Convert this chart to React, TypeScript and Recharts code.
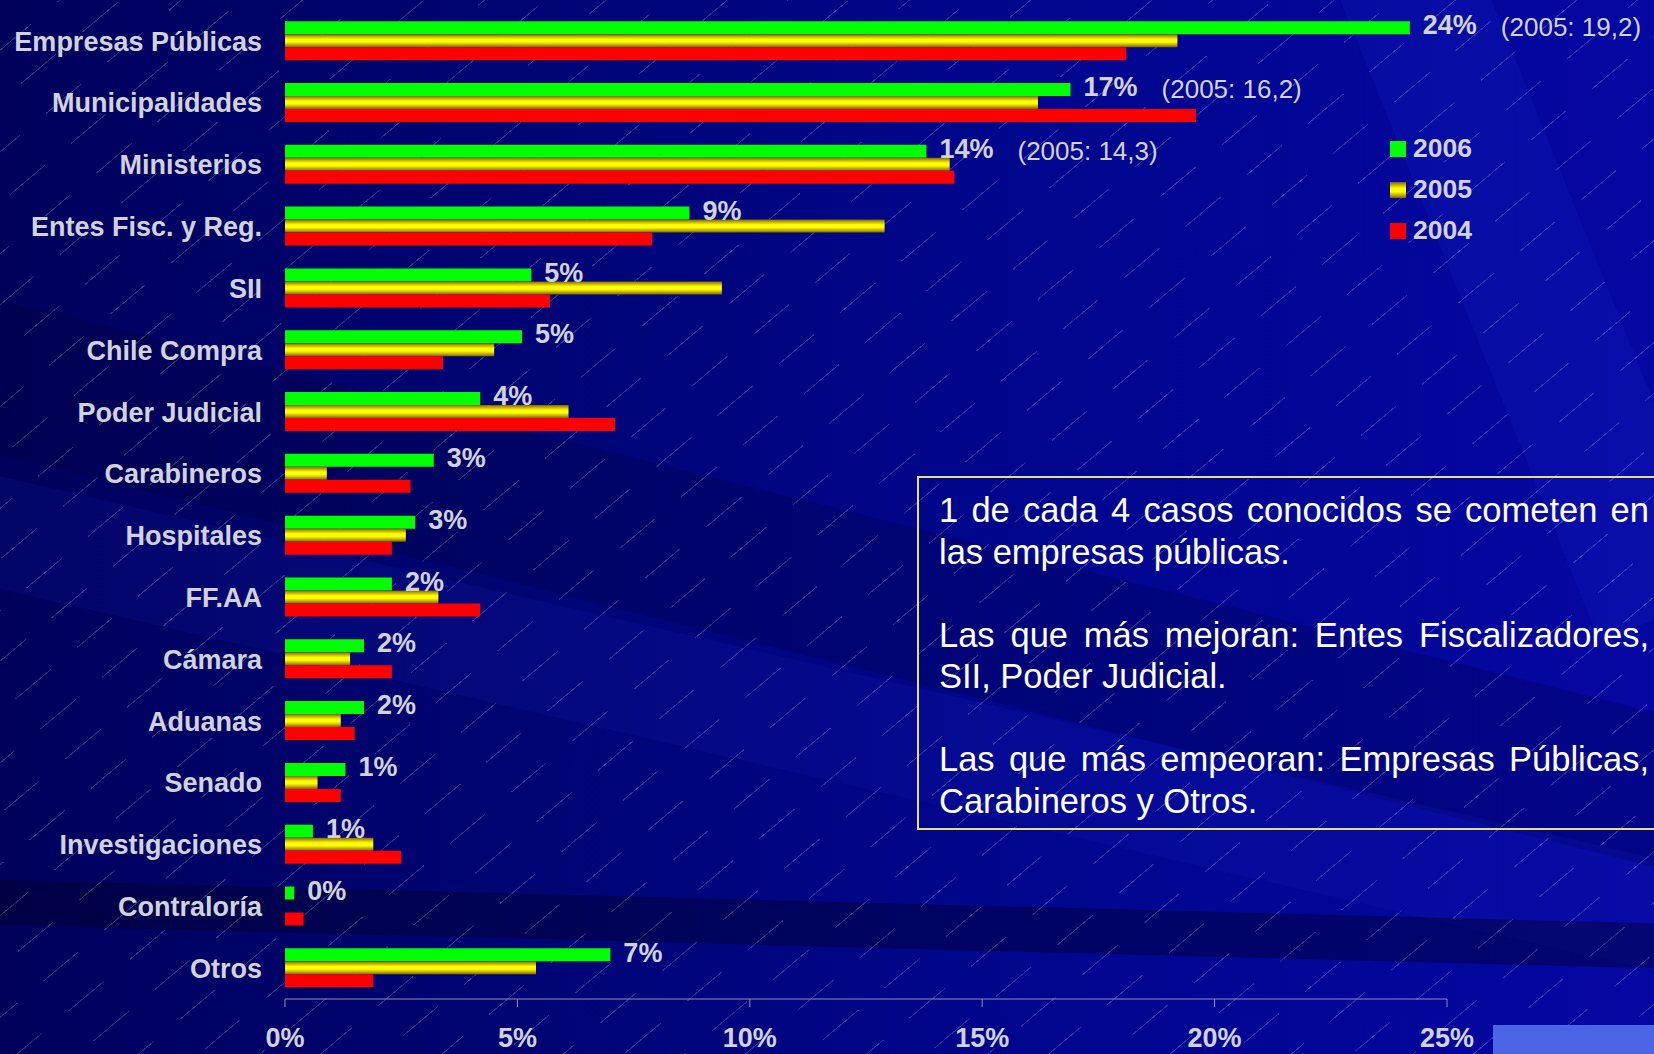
import React from "react";
import { BarChart, Bar, XAxis, YAxis, LabelList, Legend } from "recharts";

const categories = [
  "Empresas Públicas",
  "Municipalidades",
  "Ministerios",
  "Entes Fisc. y Reg.",
  "SII",
  "Chile Compra",
  "Poder Judicial",
  "Carabineros",
  "Hospitales",
  "FF.AA",
  "Cámara",
  "Aduanas",
  "Senado",
  "Investigaciones",
  "Contraloría",
  "Otros",
];

const values2006 = [24.2, 16.9, 13.8, 8.7, 5.3, 5.1, 4.2, 3.2, 2.8, 2.3, 1.7, 1.7, 1.3, 0.6, 0.2, 7.0];
const values2005 = [19.2, 16.2, 14.3, 12.9, 9.4, 4.5, 6.1, 0.9, 2.6, 3.3, 1.4, 1.2, 0.7, 1.9, 0, 5.4];
const values2004 = [18.1, 19.6, 14.4, 7.9, 5.7, 3.4, 7.1, 2.7, 2.3, 4.2, 2.3, 1.5, 1.2, 2.5, 0.4, 1.9];

const labels2006 = ["24%", "17%", "14%", "9%", "5%", "5%", "4%", "3%", "3%", "2%", "2%", "2%", "1%", "1%", "0%", "7%"];
const notes2005 = ["(2005: 19,2)", "(2005: 16,2)", "(2005: 14,3)", "", "", "", "", "", "", "", "", "", "", "", "", ""];

const xTicks = [0, 5, 10, 15, 20, 25];

const data = categories.map((name, i) => ({
  name,
  v2006: values2006[i],
  v2005: values2005[i],
  v2004: values2004[i],
  lbl: labels2006[i],
}));

// boundaries between categories (Excel-style tick marks)
const frameTicks = [...categories.map((_, i) => i), categories.length];

const font = "'Liberation Sans', Arial, sans-serif";
const textColor = "#d2d2dc";
const axisColor = "#8e8eb8";

const series = [
  { key: "v2006", name: "2006", fill: "#00ff00", swatch: "#00ff00" },
  {
    key: "v2005",
    name: "2005",
    fill: "url(#gold)",
    swatch: "linear-gradient(180deg,#7a6a00 0%,#c8b400 20%,#ffff00 40%,#ffff00 60%,#c8b400 80%,#7a6a00 100%)",
  },
  { key: "v2004", name: "2004", fill: "#ff0000", swatch: "#ff0000" },
];

const CategoryTick = (props: any) => {
  const { x, y, payload } = props;
  return (
    <text
      x={x}
      y={y}
      dy="0.36em"
      textAnchor="end"
      fill={textColor}
      fontSize={27}
      fontWeight="bold"
      fontFamily={font}
    >
      {payload.value}
    </text>
  );
};

const renderValueLabel = (props: any) => {
  const { x, y, width, height, value, index } = props;
  const note = notes2005[index];
  return (
    <text
      x={Number(x) + Number(width) + 13}
      y={Number(y) + Number(height) / 2 - 3}
      dy="0.36em"
      fill={textColor}
      fontSize={27}
      fontFamily={font}
    >
      <tspan fontWeight="bold">{value}</tspan>
      {note ? (
        <tspan dx={24} dy={2} fontWeight="normal" fontSize={26}>
          {note}
        </tspan>
      ) : null}
    </text>
  );
};

const renderLegend = () => (
  <div style={{ fontFamily: font }}>
    {series.map((s) => (
      <div key={s.key} style={{ display: "flex", alignItems: "center", height: 41 }}>
        <div style={{ width: 16, height: 16, background: s.swatch, marginRight: 7 }} />
        <span style={{ color: textColor, fontSize: 26.5, fontWeight: "bold" }}>{s.name}</span>
      </div>
    ))}
  </div>
);

export default function App() {
  return (
    <div
      style={{
        position: "absolute",
        left: 0,
        top: 0,
        width: 1654,
        height: 1054,
        overflow: "hidden",
        fontFamily: font,
        background: "linear-gradient(90deg, #00005c 0%, #000472 30%, #00068c 60%, #0507a2 100%)",
      }}
    >
      {/* soft diagonal bands */}
      <div
        style={{
          position: "absolute",
          left: -200,
          top: 250,
          width: 2200,
          height: 150,
          background: "rgba(0,0,50,0.22)",
          transform: "rotate(14deg)",
          transformOrigin: "0 0",
        }}
      />
      <div
        style={{
          position: "absolute",
          left: -200,
          top: 430,
          width: 2200,
          height: 110,
          background: "rgba(30,40,200,0.12)",
          transform: "rotate(13deg)",
          transformOrigin: "0 0",
        }}
      />
      <div
        style={{
          position: "absolute",
          left: 0,
          top: 880,
          width: 1700,
          height: 45,
          background: "rgba(0,0,40,0.4)",
          transform: "rotate(1.5deg)",
          transformOrigin: "0 0",
        }}
      />
      <div
        style={{
          position: "absolute",
          left: 1300,
          top: -100,
          width: 140,
          height: 800,
          background: "rgba(40,60,230,0.12)",
          transform: "rotate(-22deg)",
          transformOrigin: "0 0",
        }}
      />
      {/* dashed diagonal hairlines */}
      <div
        style={{
          position: "absolute",
          inset: 0,
          backgroundImage:
            "repeating-linear-gradient(140deg, transparent 0px, transparent 38px, rgba(255,255,255,0.18) 38px, rgba(255,255,255,0.18) 39px)",
          WebkitMaskImage: "repeating-linear-gradient(50deg, #000 0px, #000 46px, transparent 46px, transparent 80px)",
          maskImage: "repeating-linear-gradient(50deg, #000 0px, #000 46px, transparent 46px, transparent 80px)",
        }}
      />
      <div
        style={{
          position: "absolute",
          left: 1493,
          top: 1025,
          width: 170,
          height: 40,
          background: "#4a66e6",
        }}
      />

      <div style={{ position: "absolute", left: 0, top: 0 }}>
        <BarChart
          width={1654}
          height={1054}
          data={data}
          layout="vertical"
          margin={{ top: 10, right: 207, bottom: 0, left: 0 }}
          barCategoryGap="18%"
          barGap={0}
        >
          <defs>
            <linearGradient id="gold" x1="0" y1="0" x2="0" y2="1">
              <stop offset="0%" stopColor="#7a6a00" />
              <stop offset="20%" stopColor="#c8b400" />
              <stop offset="40%" stopColor="#ffff00" />
              <stop offset="60%" stopColor="#ffff00" />
              <stop offset="80%" stopColor="#c8b400" />
              <stop offset="100%" stopColor="#7a6a00" />
            </linearGradient>
          </defs>
          <XAxis
            type="number"
            domain={[0, 25]}
            ticks={xTicks}
            tickFormatter={(v: number) => `${v}%`}
            height={55}
            stroke={axisColor}
            tickSize={8}
            tickMargin={21}
            tick={{ fill: textColor, fontSize: 27, fontWeight: "bold", fontFamily: font }}
          />
          <YAxis
            yAxisId="frame"
            type="number"
            domain={[0, categories.length]}
            ticks={frameTicks}
            tickFormatter={() => ""}
            width={0}
            stroke={axisColor}
            tickSize={8}
            allowDataOverflow
          />
          <YAxis
            yAxisId="cat"
            type="category"
            dataKey="name"
            width={285}
            axisLine={false}
            tickLine={false}
            tickSize={0}
            tickMargin={23}
            interval={0}
            tick={<CategoryTick />}
          />
          <Legend
            layout="vertical"
            align="center"
            verticalAlign="middle"
            content={renderLegend}
            wrapperStyle={{ position: "absolute", left: 1390, top: 128, width: 120 }}
          />
          {series.map((s) => (
            <Bar
              key={s.key}
              yAxisId="cat"
              dataKey={s.key}
              name={s.name}
              fill={s.fill}
              isAnimationActive={false}
            >
              {s.key === "v2006" ? <LabelList dataKey="lbl" content={renderValueLabel} /> : null}
            </Bar>
          ))}
        </BarChart>
      </div>

      <div
        style={{
          position: "absolute",
          left: 917,
          top: 476,
          width: 760,
          height: 354,
          boxSizing: "border-box",
          border: "2px solid #e6dc7a",
          padding: "12px 0 0 20px",
          color: "#ffffff",
          fontSize: 34.5,
          lineHeight: "41.5px",
        }}
      >
        <div style={{ width: 710, textAlign: "justify" }}>
          <p style={{ margin: 0 }}>1 de cada 4 casos conocidos se cometen en las empresas públicas.</p>
          <p style={{ margin: "41.5px 0 0 0" }}>Las que más mejoran: Entes Fiscalizadores, SII, Poder Judicial.</p>
          <p style={{ margin: "41.5px 0 0 0" }}>Las que más empeoran: Empresas Públicas, Carabineros y Otros.</p>
        </div>
      </div>
    </div>
  );
}
